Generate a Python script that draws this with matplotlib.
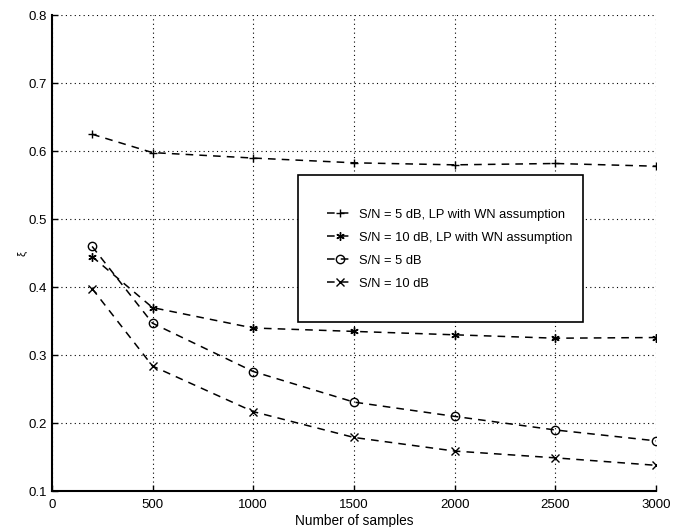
import matplotlib
matplotlib.use("Agg")
import matplotlib.pyplot as plt
from matplotlib.patches import Rectangle

samples = [200, 500, 1000, 1500, 2000, 2500, 3000]
lp_5db = [0.625, 0.598, 0.590, 0.583, 0.580, 0.582, 0.578]
lp_10db = [0.445, 0.370, 0.340, 0.335, 0.330, 0.325, 0.326]
snr_5db = [0.460, 0.347, 0.276, 0.231, 0.210, 0.190, 0.174]
snr_10db = [0.398, 0.284, 0.217, 0.179, 0.159, 0.149, 0.138]
labels = ["S/N = 5 dB, LP with WN assumption",
          "S/N = 10 dB, LP with WN assumption",
          "S/N = 5 dB",
          "S/N = 10 dB"]
xticks = [0, 500, 1000, 1500, 2000, 2500, 3000]
yticks = [0.1, 0.2, 0.3, 0.4, 0.5, 0.6, 0.7, 0.8]

plt.rcParams['font.family'] = ['Liberation Sans', 'DejaVu Sans']
fig = plt.figure(figsize=(6.82, 5.27), dpi=100)
ax = fig.add_axes([0.076, 0.068, 0.886, 0.903])

dash = (0, (5, 4))
kw = dict(color='black', linewidth=1.1, linestyle=dash, markersize=6,
          markerfacecolor='none', markeredgewidth=1.0)
ax.plot(samples, lp_5db, marker='+', label=labels[0], **kw)
ax.plot(samples, lp_10db, marker=(6, 2, 0), label=labels[1], **kw)
ax.plot(samples, snr_5db, marker='o', label=labels[2], **kw)
ax.plot(samples, snr_10db, marker='x', label=labels[3], **kw)

ax.set_xlim(0, 3000)
ax.set_ylim(0.1, 0.8)
ax.set_xticks(xticks)
ax.set_yticks(yticks)
ax.set_xticklabels([str(t) for t in xticks], fontsize=9.5)
ax.set_yticklabels([f"{t:.1f}" for t in yticks], fontsize=9.5)
ax.grid(True, linestyle=(0, (1, 3)), color='black', linewidth=0.8)
for s in ['top', 'right']:
    ax.spines[s].set_visible(False)
for s in ['left', 'bottom']:
    ax.spines[s].set_linewidth(1.5)
ax.tick_params(direction='in', length=4, width=1)
ax.tick_params(axis='x', pad=6)
ax.set_xlabel("Number of samples", fontsize=9.8, labelpad=2)
ax.set_ylabel("ξ", fontsize=8, rotation=90)
ax.yaxis.set_label_coords(-0.04, 0.5)

# legend frame drawn as a box in axes coordinates
box = Rectangle((0.407, 0.355), 0.472, 0.309, transform=ax.transAxes,
                facecolor='white', edgecolor='black', linewidth=1.2, zorder=4)
ax.add_patch(box)
leg = ax.legend(loc='upper left', bbox_to_anchor=(0.456, 0.594),
                fontsize=9.3, frameon=False,
                handlelength=1.95, labelspacing=0.86, borderpad=0,
                handletextpad=0.5, borderaxespad=0)
leg.set_zorder(5)

fig.savefig("out.png", dpi=100)
